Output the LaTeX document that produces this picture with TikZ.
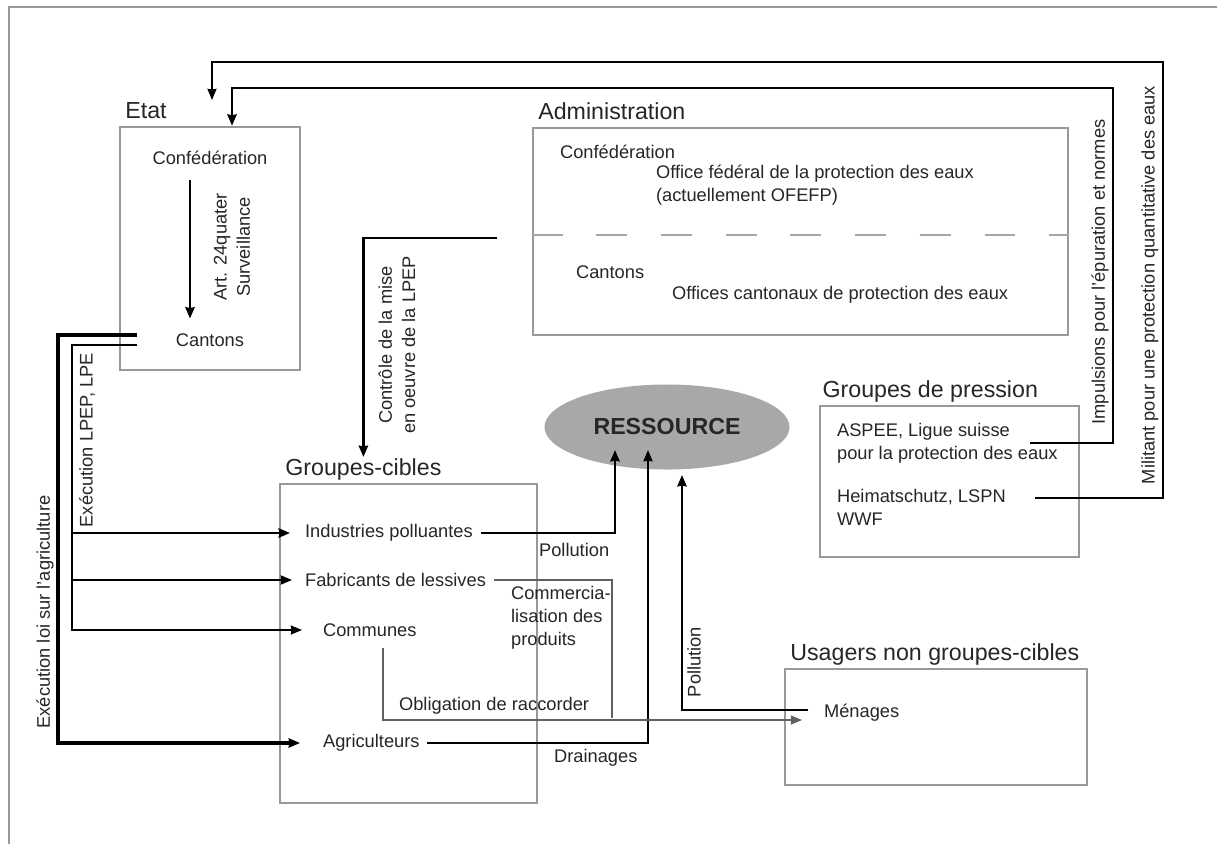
\documentclass[tikz,border=0pt]{standalone}
\usepackage{fontspec}
\setsansfont{Liberation Sans}
\usetikzlibrary{positioning,arrows.meta,calc,shapes.geometric}

\newcommand{\txtsize}{\fontsize{13}{16.5}\selectfont}
\newcommand{\ttlsize}{\fontsize{16.5}{19}\selectfont}

\begin{document}
\begin{tikzpicture}[
  x=0.025cm, y=-0.025cm,
  font=\txtsize\sffamily, text=black!85,
  frame/.style={draw=gray!80, line width=1.8pt},
  grp/.style={draw=gray!80, line width=1.7pt, inner sep=0pt},
  ttl/.style={font=\ttlsize\sffamily, text depth=0.2em, inner sep=1pt},
  txt/.style={anchor=west, inner sep=2pt, align=left},
  vtxt/.style={rotate=90, align=center, inner sep=0pt},
  tip/.style={-{Stealth[length=8pt,width=6.5pt,inset=0.5pt]}},
  arrbold/.style={tip, line width=2.8pt},
  arr/.style={tip, line width=2.1pt},
  arrmid/.style={tip, line width=1.4pt},
  arrthin/.style={tip, line width=0.9pt},
  wire/.style={draw=gray!75!black, line width=0.9pt}
]
\useasboundingbox (0,0) rectangle (1217,844);
\draw[frame] (9,844) -- (9,7) -- (1217,7);

% Etat
\node[grp, minimum width=4.5cm, minimum height=6.075cm] (etat) at (210,248.5) {};
\node[ttl, above right=2pt and 3.5pt of etat.north west] (ttlE) {Etat};
\node (confE) at (210,158) {Confédération};
\node (cantE) at (210,340) {Cantons};
\node[vtxt] (art) at (232,247) {Art. 24quater\\Surveillance};
\draw[arr] ([shift={(-20,10)}]confE.south) -- ([shift={(-20,-10)}]cantE.north);

% Administration
\node[grp, minimum width=13.375cm, minimum height=5.175cm] (admin) at (800.5,231.5) {};
\node[ttl, above right=2pt and 3.5pt of admin.north west] (ttlA) {Administration};
\draw[gray!70, line width=1.2pt, dash pattern=on 22pt off 24pt]
  ([yshift=-2.5pt]admin.west) -- ([yshift=-2.5pt]admin.east);
\node[txt] (confA) at (557,152) {Confédération};
\node[txt] (ofefp) at (653,185) {Office fédéral de la protection des eaux\\(actuellement OFEFP)};
\node[txt] (cantA) at (573,272) {Cantons};
\node[txt] (ocpe) at (669,295) {Offices cantonaux de protection des eaux};

% Groupes-cibles
\node[grp, minimum width=6.425cm, minimum height=7.975cm] (cibles) at (408.5,643.5) {};
\node[ttl, above right=2pt and 3.5pt of cibles.north west] (ttlC) {Groupes-cibles};
\node[txt] (indus) at (302,533) {Industries polluantes};
\node[txt] (fabric) at (302,580) {Fabricants de lessives};
\node[txt] (commun) at (320,630) {Communes};
\node[txt] (agri) at (320,743) {Agriculteurs};
\node[txt] (commerce) at (508,618) {Commercia-\\lisation des\\produits};
\node[txt] (oblig) at (396,706) {Obligation de raccorder};
\node[txt] (poll1) at (536,550) {Pollution};
\node[txt] (drain) at (551,758) {Drainages};

% Ressource
\node[ellipse, fill=gray!68, minimum width=6.125cm, minimum height=2.125cm, inner sep=0pt,
  font=\ttlsize\sffamily\bfseries] (res) at (667,427) {RESSOURCE};
\coordinate (resIn1) at (615,450);
\coordinate (resIn2) at (648,450);
\coordinate (resIn3) at (682,475);

% Groupes de pression
\node[grp, minimum width=6.475cm, minimum height=3.775cm] (pression) at (949.5,481.5) {};
\node[ttl, above right=2pt and 1.5pt of pression.north west] (ttlP) {Groupes de pression};
\node[txt] (aspee) at (834,443.5) {ASPEE, Ligue suisse\\pour la protection des eaux};
\node[txt] (heimat) at (834,507.5) {Heimatschutz, LSPN\\WWF};

% Usagers non groupes-cibles
\node[grp, minimum width=7.55cm, minimum height=2.9cm] (usagers) at (936,727) {};
\node[ttl, above right=2pt and 3.5pt of usagers.north west] (ttlU) {Usagers non groupes-cibles};
\node[txt] (menages) at (821,713) {Ménages};

% pressure groups back to the state
\coordinate (aspOut) at (1030,443);
\coordinate (hsOut) at (1035,498);
\coordinate (cornI) at (1113,88);
\coordinate (cornM) at (1163,62);
\coordinate (etatIn) at (212,100);
\draw[arr] (aspOut) -| (cornI) -| ([xshift=0.55cm]etat.north);
\draw[arrthin] (hsOut) -| (cornM) -| (etatIn);
\node[vtxt] (impuls) at (1100,272) {Impulsions pour l'épuration et normes};
\node[vtxt] (milit) at (1150,285) {Militant pour une protection quantitative des eaux};

% control by the administration
\coordinate (ctlOut) at (497,238);
\draw[arr] (ctlOut) -| (ttlC.north);
\node[vtxt] (ctl) at (397,345) {Contrôle de la mise\\en oeuvre de la LPEP};

% execution by the cantons
\coordinate (stubA) at (137,335);
\coordinate (stubB) at (137,345);
\coordinate (colA) at (58,335);
\coordinate (colB) at (72,345);
\draw[arrbold] (stubA) -- (colA) |- ([xshift=-0.5cm]agri.west);
\draw[arrthin] (stubB) -- (colB) |- ([xshift=-0.45cm]commun.west);
\draw[arr] (colB |- indus.west) -- ([xshift=-0.3cm]indus.west);
\draw[arrmid] (colB |- fabric.west) -- ([xshift=-0.25cm]fabric.west);
\node[vtxt] (exAgri) at (45,612) {Exécution loi sur l'agriculture};
\node[vtxt] (exLpe) at (87,440) {Exécution LPEP, LPE};

% flows to the resource
\draw[arr] ([xshift=0.12cm]indus.east) -| (resIn1);
\draw[arrmid] ([xshift=0.1cm]agri.east) -| (resIn2);
\draw[arr] ([shift={(-13,-3)}]menages.west) -| (resIn3);
\node[vtxt] (poll2) at (694,662) {Pollution};

% connection duty and marketing
\coordinate (comDown) at (383,648);
\coordinate (comJoin) at (612,718);
\draw[wire, tip] (comDown) |- ([shift={(-19,7)}]menages.west);
\draw[wire] ([xshift=0.12cm]fabric.east) -| (comJoin);
\end{tikzpicture}
\end{document}
